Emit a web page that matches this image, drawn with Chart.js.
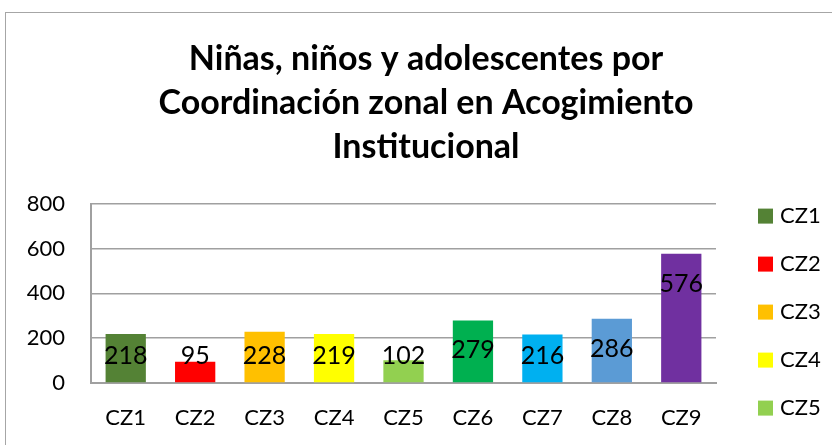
<!DOCTYPE html>
<html>
<head>
<meta charset="utf-8">
<script src="https://cdn.jsdelivr.net/npm/chart.js@4"></script>
<style>
    body { margin: 0; background: #fff; overflow: hidden; }
    #wrap { position: relative; width: 832px; height: 445px; }
    #frame { position: absolute; left: 5px; top: 12px; width: 900px; height: 500px; border: 1px solid #a6a6a6; }
    #chartOne { position: absolute; left: 0; top: 0; }
</style>
</head>
<body>
<div id="wrap">
    <div id="frame"></div>
    <canvas id="chartOne" width="832" height="445"></canvas>
</div>
<script>
const labels = ['CZ1', 'CZ2', 'CZ3', 'CZ4', 'CZ5', 'CZ6', 'CZ7', 'CZ8', 'CZ9'];
const values = [218, 95, 228, 219, 102, 279, 216, 286, 576];
const colors = ['#548235', '#ff0000', '#ffc000', '#ffff00', '#92d050', '#00b050', '#00b0f0', '#5b9bd5', '#7030a0'];
const yTicks = [0, 200, 400, 600, 800];
const titleLines = ['Niñas, niños y adolescentes por', 'Coordinación zonal en Acogimiento', 'Institucional'];

const font = 'Lato';

// numbers on the bars
const barLabels = {
    id: 'barLabels',
    afterDatasetsDraw(chart) {
        const ctx = chart.ctx;
        ctx.save();
        ctx.font = '25px ' + font;
        ctx.fillStyle = '#000';
        ctx.textAlign = 'center';
        ctx.textBaseline = 'middle';
        chart.getDatasetMeta(0).data.forEach((bar, i) => {
            const y = Math.min(bar.y + 30, bar.base - 26);
            ctx.fillText(values[i], bar.x, y);
        });
        ctx.restore();
    },
};

// legend on the right, runs past the bottom like the original
const sideLegend = {
    id: 'sideLegend',
    afterDraw(chart) {
        const ctx = chart.ctx;
        const area = chart.chartArea;
        ctx.save();
        ctx.font = '22px ' + font;
        ctx.textBaseline = 'middle';
        labels.forEach((lab, i) => {
            const y = area.top + 12 + i * 48;
            ctx.fillStyle = colors[i];
            ctx.fillRect(area.right + 42, y - 7, 15, 15);
            ctx.fillStyle = '#000';
            ctx.fillText(lab, area.right + 64, y);
        });
        ctx.restore();
    },
};

new Chart(document.getElementById('chartOne').getContext('2d'), {
    type: 'bar',
    data: {
        labels: labels,
        datasets: [{
            data: values,
            backgroundColor: colors,
            barPercentage: 0.58,
            categoryPercentage: 1,
        }],
    },
    plugins: [barLabels, sideLegend],
    options: {
        responsive: false,
        animation: false,
        layout: { padding: { left: 20, right: 0, top: 0, bottom: 0 } },
        plugins: {
            legend: { display: false },
            tooltip: { enabled: false },
            title: {
                display: true,
                text: titleLines,
                color: '#000',
                font: { family: font, size: 34, weight: 'bold', lineHeight: 1.3 },
                padding: { top: 37, bottom: 34 },
            },
        },
        scales: {
            x: {
                grid: { display: false, drawTicks: false },
                border: { color: '#a0a0a0', width: 2 },
                ticks: { color: '#000', font: { family: font, size: 22 }, padding: 22 },
                afterFit(scale) { scale.height = 62; },
            },
            y: {
                min: 0,
                max: 800,
                afterBuildTicks(scale) { scale.ticks = yTicks.map(v => ({ value: v })); },
                grid: { color: '#a0a0a0', lineWidth: 1.5, drawTicks: false },
                border: { color: '#a0a0a0', width: 2 },
                ticks: { color: '#000', font: { family: font, size: 22 }, padding: 26 },
                afterFit(scale) { scale.width = 71; },
            },
            // empty axis that keeps room for the legend
            side: {
                type: 'linear',
                position: 'right',
                grid: { display: false, drawTicks: false },
                border: { display: false },
                ticks: { display: false },
                afterFit(scale) { scale.width = 116; },
            },
        },
    },
});
</script>
</body>
</html>
